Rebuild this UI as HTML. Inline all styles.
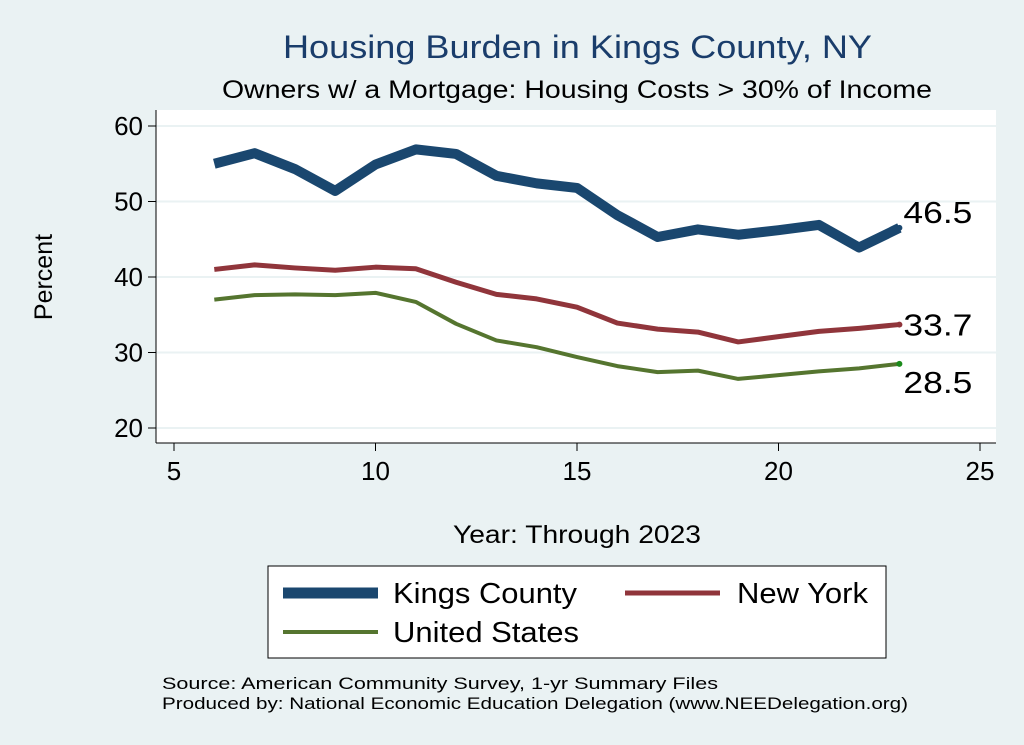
<!DOCTYPE html>
<html><head><meta charset="utf-8"><style>
body{margin:0;background:#eaf2f3;}
svg{display:block;font-family:"Liberation Sans",Arial,sans-serif;}
</style></head><body>
<svg id="chart" width="1024" height="745" viewBox="0 0 1024 745">
<rect x="0" y="0" width="1024" height="745" fill="#eaf2f3"/>
<text x="283" y="58" font-size="32" fill="#1a3d6b" textLength="589" lengthAdjust="spacingAndGlyphs">Housing Burden in Kings County, NY</text>
<text x="222" y="98" font-size="25" fill="#000" textLength="710" lengthAdjust="spacingAndGlyphs">Owners w/ a Mortgage: Housing Costs &gt; 30% of Income</text>
<rect x="156" y="110" width="840" height="333" fill="#ffffff"/>
<g id="grid"></g>
<g id="axes"></g>
<g id="series"></g>
<g id="labels"></g>
<text x="52" y="277" font-size="25" text-anchor="middle" transform="rotate(-90 52 277)">Percent</text>
<text x="453" y="543" font-size="25" textLength="248" lengthAdjust="spacingAndGlyphs">Year: Through 2023</text>
<g>
<rect x="268" y="566" width="618" height="92" fill="#ffffff" stroke="#000" stroke-width="1"/>
<line x1="283" y1="593" x2="378" y2="593" stroke="#1a476f" stroke-width="11"/>
<text x="393" y="603" font-size="29" textLength="184" lengthAdjust="spacingAndGlyphs">Kings County</text>
<line x1="625" y1="593" x2="720" y2="593" stroke="#90353b" stroke-width="5"/>
<text x="737" y="603" font-size="29" textLength="131" lengthAdjust="spacingAndGlyphs">New York</text>
<line x1="283" y1="632" x2="378" y2="632" stroke="#55752f" stroke-width="4"/>
<text x="393" y="642" font-size="29" textLength="186" lengthAdjust="spacingAndGlyphs">United States</text>
</g>
<text x="162" y="689" font-size="17" textLength="556" lengthAdjust="spacingAndGlyphs">Source: American Community Survey, 1-yr Summary Files</text>
<text x="162" y="709" font-size="17" textLength="746" lengthAdjust="spacingAndGlyphs">Produced by: National Economic Education Delegation (www.NEEDelegation.org)</text>
</svg>
<script>
const years=[6,7,8,9,10,11,12,13,14,15,16,17,18,19,20,21,22,23];
const kings=[55,56.4,54.3,51.4,54.9,56.9,56.3,53.4,52.4,51.8,48.2,45.3,46.3,45.6,46.2,46.9,43.9,46.5];
const newYork=[41,41.6,41.2,40.9,41.3,41.1,39.3,37.7,37.1,36,33.9,33.1,32.7,31.4,32.1,32.8,33.2,33.7];
const usa=[37,37.6,37.7,37.6,37.9,36.7,33.8,31.6,30.7,29.4,28.2,27.4,27.6,26.5,27,27.5,27.9,28.5];
const xTicks=[5,10,15,20,25];
const yTicks=[20,30,40,50,60];
const endLabels=["46.5","33.7","28.5"];
const NS="http://www.w3.org/2000/svg";
function xs(v){return 174+(v-5)*(980-174)/20;}
function ys(v){return 428-(v-20)*(428-126)/40;}
function mk(tag,attrs,parent){const e=document.createElementNS(NS,tag);for(const k in attrs)e.setAttribute(k,attrs[k]);document.getElementById(parent).appendChild(e);return e;}
yTicks.forEach(t=>{
 let g=mk('line',{x1:156,x2:996,y1:ys(t),y2:ys(t),stroke:'#eaf2f3','stroke-width':2},'grid');
 
 
 let tk=mk('line',{x1:148,x2:156,y1:ys(t),y2:ys(t),stroke:'#000'},'axes');
 
 
 let tx=mk('text',{x:143,y:ys(t)+9,'font-size':26,'text-anchor':'end'},'axes');tx.textContent=t;
 
 
});
xTicks.forEach(t=>{
 let tk=mk('line',{x1:xs(t),x2:xs(t),y1:443,y2:451,stroke:'#000'},'axes');
 
 
 let tx=mk('text',{x:xs(t),y:480,'font-size':26,'text-anchor':'middle'},'axes');tx.textContent=t;
 
 
});
let ya=mk('line',{x1:156,x2:156,y1:110,y2:443,stroke:'#000'},'axes');


let xa=mk('line',{x1:156,x2:996,y1:443,y2:443,stroke:'#000'},'axes');


const series=[[kings,'#1a476f',10,'line-kings-county'],[newYork,'#90353b',5,'line-new-york'],[usa,'#55752f',4,'line-united-states']];
series.forEach((s,i)=>{
 const d=years.map((y,j)=>(j?'L':'M')+xs(y)+' '+ys(s[0][j])).join(' ');
 let p=mk('path',{d:d,fill:'none',stroke:s[1],'stroke-width':s[2],'stroke-linejoin':'round'},'series');
 
 
 const lv=s[0][s[0].length-1];
 let c=mk('circle',{cx:xs(years[years.length-1]),cy:ys(lv),r:3,fill:i==2?'#1a8a1a':s[1]},'series');
 
 
 const dy=[-5,11,29][i];
 let t=mk('text',{x:xs(years[years.length-1])+4,y:ys(lv)+dy,'font-size':31,textLength:69,lengthAdjust:'spacingAndGlyphs'},'labels');t.textContent=endLabels[i];
 
 
});
</script>
</body></html>
